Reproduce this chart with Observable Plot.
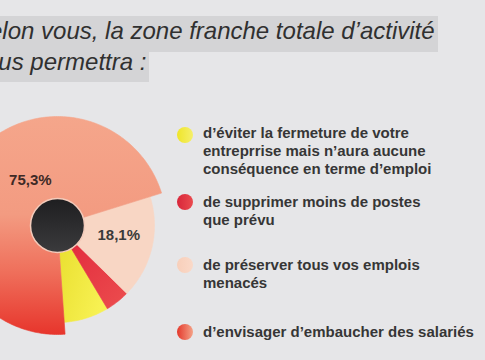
<!DOCTYPE html>
<html>
<head>
<meta charset="utf-8">
<script src="https://cdn.jsdelivr.net/npm/d3@7"></script>
<script src="https://cdn.jsdelivr.net/npm/@observablehq/plot@0.6"></script>
<style>
html, body { margin: 0; padding: 0; background: #e6e6e8; overflow: hidden; }
#wrap { position: relative; width: 485px; height: 360px; overflow: hidden; font-family: "Liberation Sans", Arial, sans-serif; }
#chart { position: absolute; left: 0; top: 0; }
.tl { position: absolute; left: -27px; background: #d4d4d6; color: #303030; font-style: italic; font-size: 24px; line-height: 20px; height: 20px; white-space: nowrap; padding-right: 3px; }
#t1 { top: 16px; padding-top: 5px; padding-bottom: 11px; }
#t2 { top: 52px; padding-top: 0; padding-bottom: 10px; }
.li { position: absolute; left: 203px; font-weight: bold; font-size: 15px; line-height: 18px; color: #363636; white-space: nowrap; }
.dot { position: absolute; left: 176.5px; width: 16px; height: 16px; border-radius: 50%; }
</style>
</head>
<body>
<div id="wrap">
  <div id="chart"></div>
  <div class="tl" id="t1"></div>
  <div class="tl" id="t2"></div>
  <div id="legend"></div>
</div>
<script>
// ---- data ----
const titleLines = ["Selon vous, la zone franche totale d’activité", "vous permettra :"];
const categories = [
  "d’éviter la fermeture de votre\nentreprrise mais n’aura aucune\nconséquence en terme d’emploi",
  "de supprimer moins de postes\nque prévu",
  "de préserver tous vos emplois\nmenacés",
  "d’envisager d’embaucher des salariés"
];
const shares = [7.9, 4.3, 18.1, 75.3];   // % (the two small ones)
const labelled = [false, false, true, true];

// ---- style ----
const sliceFills = ["url(#gYellow)", "url(#gRed)", "#f8d6c4", "url(#gBig)"];
const legendFills = [
  "linear-gradient(90deg, #efe52a, #f5ef6a)",
  "linear-gradient(90deg, #d8263a, #ea4a4e)",
  "linear-gradient(90deg, #f8cfba, #fad9c8)",
  "linear-gradient(90deg, #e4392c, #f4a186)"
];
const legendTops = [124, 193, 256, 323];
const legendDotTops = [127.3, 194, 257, 324];

document.getElementById("t1").textContent = titleLines[0];
document.getElementById("t2").textContent = titleLines[1];

const legend = document.getElementById("legend");
categories.forEach((c, i) => {
  const d = document.createElement("div");
  d.className = "dot";
  d.style.top = legendDotTops[i] + "px";
  d.style.background = legendFills[i];
  legend.appendChild(d);
  const t = document.createElement("div");
  t.className = "li";
  t.style.top = legendTops[i] + "px";
  t.innerHTML = c.split("\n").join("<br>");
  legend.appendChild(t);
});

// ---- pie geometry from data ----
const total = d3.sum(shares);
const maxShare = d3.max(shares);
const startAngle = -86; // degrees, counter-clockwise from +x
let acc = 0;
const slices = shares.map((v, i) => {
  const a0 = startAngle + acc / total * 360;
  acc += v;
  const a1 = startAngle + acc / total * 360;
  return {i, v, a0, a1, r: v === maxShare ? 109 : 97};
});
const pts = slices.flatMap(s => {
  const n = Math.ceil(Math.abs(s.a1 - s.a0)) + 1;
  const arr = [{k: s.i, fill: sliceFills[s.i], x: 0, y: 0}];
  for (let j = 0; j <= n; j++) {
    const a = (s.a0 + (s.a1 - s.a0) * j / n) * Math.PI / 180;
    arr.push({k: s.i, fill: sliceFills[s.i], x: s.r * Math.cos(a), y: s.r * Math.sin(a)});
  }
  arr.push({k: s.i, fill: sliceFills[s.i], x: 0, y: 0});
  return arr;
});
const fmt = v => v.toFixed(1).replace(".", ",") + "%";
const labels = slices.filter(s => labelled[s.i]).map(s => {
  const m = (s.a0 + s.a1) / 2 * Math.PI / 180;
  return {x: 62 * Math.cos(m), y: 62 * Math.sin(m), text: fmt(s.v), big: s.v === maxShare};
});

const svg = Plot.plot({
  width: 485, height: 360,
  margin: 0,
  x: {domain: [-57, 428], axis: null},
  y: {domain: [-135, 225], axis: null},
  color: {type: "identity"},
  style: {background: "transparent", fontFamily: "Liberation Sans, Arial, sans-serif"},
  marks: [
    Plot.line(pts, {x: "x", y: "y", z: "k", fill: "fill", stroke: "fill", strokeWidth: 0.6, curve: "linear"}),
    Plot.dot([{x: 0, y: 0}], {x: "x", y: "y", r: 27, fill: "url(#gHole)", stroke: "#f3cbbb", strokeWidth: 1.5}),
    Plot.text(labels.filter(d => d.big), {x: "x", y: "y", text: "text", dx: 24, dy: -10, fontSize: 15, fontWeight: "bold", fill: "#3e2a26"}),
    Plot.text(labels.filter(d => !d.big), {x: "x", y: "y", text: "text", dx: 1, dy: -4.5, fontSize: 15, fontWeight: "bold", fill: "#3a3a3a"})
  ]
});

const defs = d3.select(svg).insert("defs", ":first-child");
function lin(id, x2, y2, stops) {
  const g = defs.append("linearGradient").attr("id", id).attr("x1", 0).attr("y1", 0).attr("x2", x2).attr("y2", y2);
  stops.forEach(([o, c]) => g.append("stop").attr("offset", o).attr("stop-color", c));
}
lin("gBig", 0, 1, [[0, "#f5a68b"], [0.45, "#f39b81"], [0.72, "#ef6e5a"], [1, "#e7352c"]]);
lin("gRed", 1, 1, [[0, "#e0253a"], [1, "#ec4d4e"]]);
lin("gYellow", 1, 0.6, [[0, "#e8dd2c"], [1, "#f7f152"]]);
lin("gHole", 0, 1, [[0, "#1e1e20"], [1, "#3b3b3d"]]);

document.getElementById("chart").appendChild(svg);
</script>
</body>
</html>
